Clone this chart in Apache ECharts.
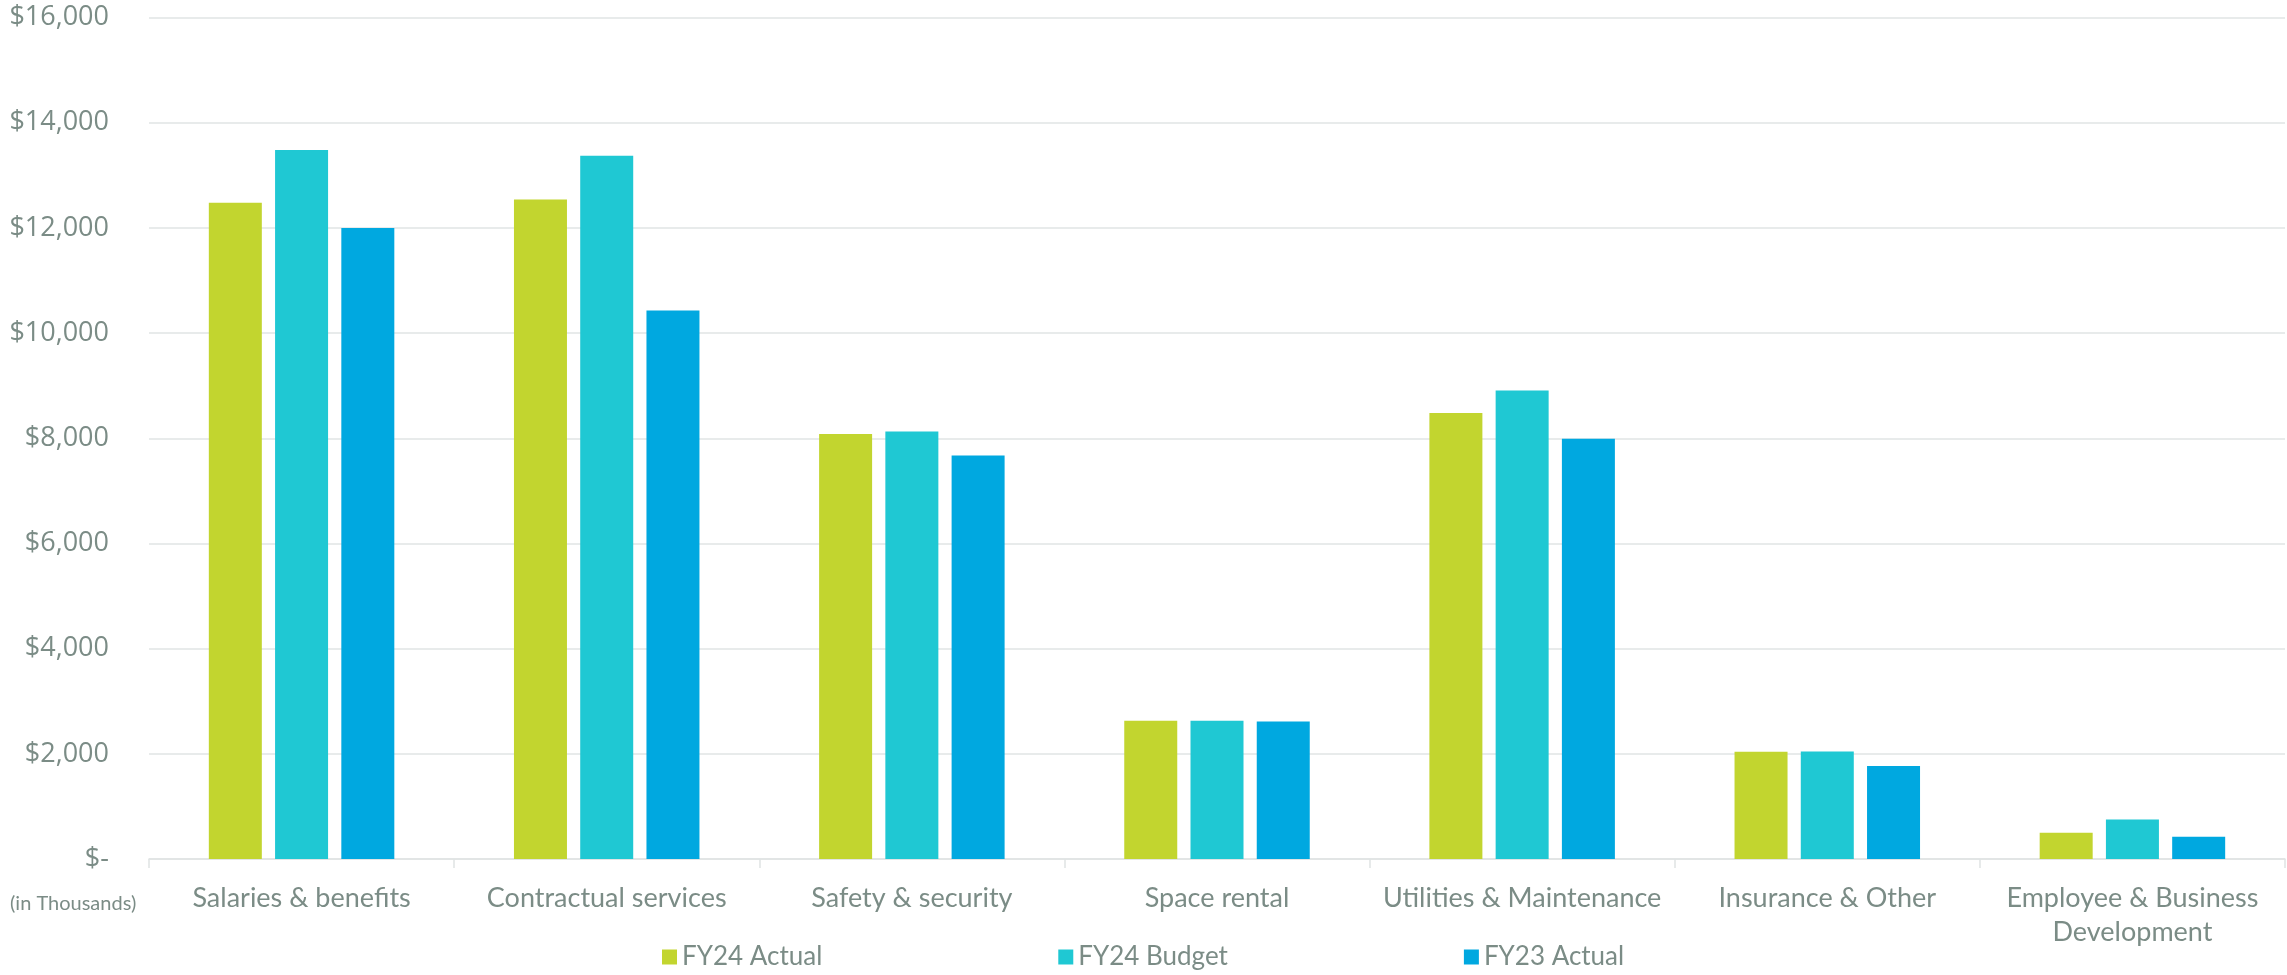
<!DOCTYPE html>
<html>
<head>
<meta charset="utf-8">
<script src="https://cdn.jsdelivr.net/npm/echarts@6/dist/echarts.min.js"></script>
<style>
html,body{margin:0;padding:0;background:#fff;}
#chart{width:2287px;height:975px;}
</style>
</head>
<body>
<div id="chart"></div>
<script>
const categories = ['Salaries & benefits', 'Contractual services', 'Safety & security', 'Space rental', 'Utilities & Maintenance', 'Insurance & Other', 'Employee & Business\nDevelopment'];
const fy24Actual = [12480, 12540, 8080, 2630, 8480, 2040, 500];
const fy24Budget = [13480, 13370, 8130, 2630, 8910, 2045, 750];
const fy23Actual = [12000, 10430, 7670, 2615, 7990, 1770, 425];
const seriesNames = ['FY24 Actual', 'FY24 Budget', 'FY23 Actual'];
const colors = ['#c2d52f', '#1fc8d3', '#00a8e0'];

const textColor = '#7b8c86';
const chart = echarts.init(document.getElementById('chart'));
const mk = (name, data, i) => ({
  name, type: 'bar', data, barWidth: 53, barGap: '25%',
  itemStyle: { color: colors[i] }
});
chart.setOption({
  animation: false,
  color: colors,
  grid: { left: 149, right: 2, top: 17.5, bottom: 116, containLabel: false },
  legend: {
    bottom: 0, left: 657, itemGap: 236,
    itemWidth: 15, itemHeight: 15, icon: 'rect',
    textStyle: { color: textColor, fontSize: 26, fontFamily: 'Lato' },
    data: seriesNames
  },
  xAxis: {
    type: 'category', data: categories,
    axisLine: { lineStyle: { color: '#dfe3e3', width: 1.5 } },
    axisTick: { show: true, length: 9, lineStyle: { color: '#dfe3e3', width: 1.5 } },
    axisLabel: { color: textColor, fontSize: 27, fontFamily: 'Lato', margin: 22, lineHeight: 34, interval: 0 }
  },
  yAxis: {
    type: 'value', min: 0, max: 16000, interval: 2000,
    axisLine: { show: false }, axisTick: { show: false },
    splitLine: { lineStyle: { color: '#e1e4e4', width: 1.5 } },
    axisLabel: {
      color: textColor, fontSize: 27, fontFamily: 'Open Sans', margin: 40,
      formatter: v => v === 0 ? '$-' : '$' + v.toLocaleString('en-US')
    }
  },
  graphic: [{
    type: 'text', left: 10, top: 894,
    style: { text: '(in Thousands)', fill: textColor, fontSize: 20, fontFamily: 'Lato' }
  }],
  series: [mk(seriesNames[0], fy24Actual, 0), mk(seriesNames[1], fy24Budget, 1), mk(seriesNames[2], fy23Actual, 2)]
});
</script>
</body>
</html>
